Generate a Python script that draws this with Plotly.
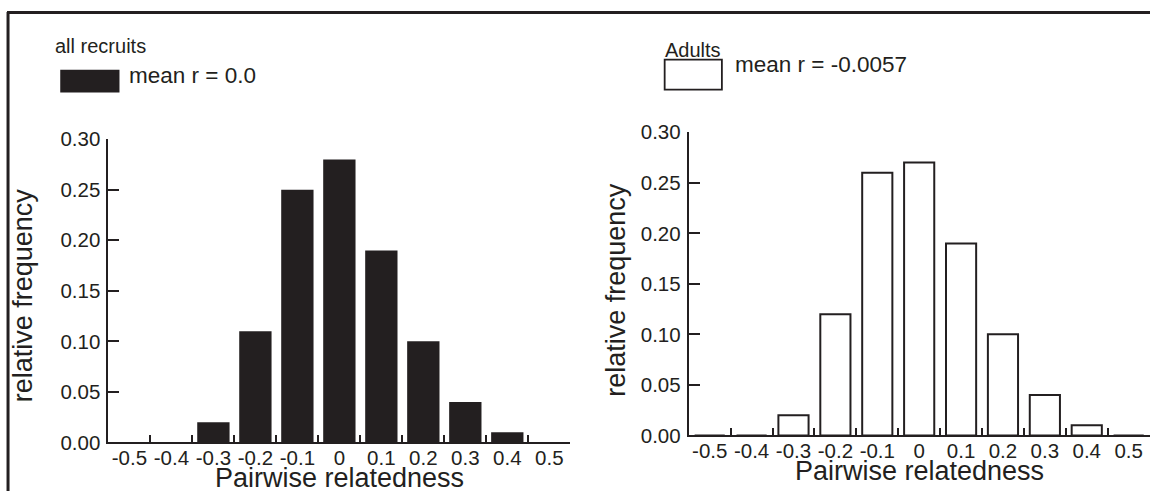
import plotly.graph_objects as go

# ---- data ----
categories = ["-0.5", "-0.4", "-0.3", "-0.2", "-0.1", "0", "0.1", "0.2", "0.3", "0.4", "0.5"]
recruits = [0.0, 0.0, 0.02, 0.11, 0.25, 0.28, 0.19, 0.10, 0.04, 0.01, 0.0]
adults = [0.0, 0.0, 0.02, 0.12, 0.26, 0.27, 0.19, 0.10, 0.04, 0.01, 0.0]
y_ticks = [0.0, 0.05, 0.10, 0.15, 0.20, 0.25, 0.30]
label_recruits = "all recruits"
label_adults = "Adults"
mean_recruits = "mean r = 0.0"
mean_adults = "mean r = -0.0057"
x_title = "Pairwise relatedness"
y_title = "relative frequency"

W, H = 1150, 502
INK = "#231F20"
FONT = "Liberation Sans, Arial, sans-serif"

# the captured picture is slightly squeezed; map target picture pixels to figure pixels
SY, OY = 0.96, 9.0
SX = 0.996


def px(x):
    return min(max((x / SX) / W, 0), 1)


def py(y):
    return min(max(1 - ((y - OY) / SY) / H, 0), 1)


fig = go.Figure()
fig.add_trace(go.Bar(x=categories, y=recruits, width=0.77,
                     marker=dict(color=INK, line=dict(width=0)),
                     xaxis="x", yaxis="y", showlegend=False))
fig.add_trace(go.Bar(x=categories, y=adults, width=0.72,
                     marker=dict(color="white", line=dict(color=INK, width=2)),
                     xaxis="x2", yaxis="y2", showlegend=False))

xcommon = dict(type="category", categoryorder="array", categoryarray=categories,
               range=[-0.5, len(categories) - 0.5], tickson="boundaries",
               ticks="inside", ticklen=7, tickwidth=2, tickcolor=INK, tickangle=0,
               showline=True, linewidth=2, linecolor=INK, showgrid=False,
               zeroline=False, tickfont=dict(size=20.5, color=INK, family=FONT),
               ticklabelstandoff=-4, fixedrange=True)
ycommon = dict(range=[0, 0.30], tickvals=y_ticks, tickformat=".2f",
               ticks="inside", ticklen=11, tickwidth=2, tickcolor=INK,
               showline=True, linewidth=2, linecolor=INK, showgrid=False,
               zeroline=False, tickfont=dict(size=20.5, color=INK, family=FONT),
               ticklabelstandoff=2, fixedrange=True)

fig.update_layout(
    width=W, height=H,
    margin=dict(l=0, r=0, t=0, b=0),
    paper_bgcolor="white", plot_bgcolor="white",
    font=dict(family=FONT, color=INK),
    bargap=0.2,
    xaxis=dict(domain=[px(108), px(568)], anchor="y", **xcommon),
    yaxis=dict(domain=[py(442), py(137)], anchor="x", **ycommon),
    xaxis2=dict(domain=[px(686), px(1145)], anchor="y2", **xcommon),
    yaxis2=dict(domain=[py(435), py(130)], anchor="x2", **ycommon),
)

shapes = [
    # outer frame (top and left edges)
    dict(type="line", xref="paper", yref="paper", x0=px(7), x1=1, y0=0.999, y1=0.999,
         line=dict(color=INK, width=3)),
    dict(type="line", xref="paper", yref="paper", x0=px(8), x1=px(8), y0=0, y1=1,
         line=dict(color=INK, width=3)),
    # legend swatches
    dict(type="rect", xref="paper", yref="paper", x0=px(60), x1=px(119), y0=py(90), y1=py(67),
         fillcolor=INK, line=dict(width=0)),
    dict(type="rect", xref="paper", yref="paper", x0=px(662), x1=px(719), y0=py(87), y1=py(57),
         fillcolor="white", line=dict(color=INK, width=1.8)),
]

annotations = [
    dict(text=label_recruits, x=px(53), y=py(43), xanchor="left", yanchor="middle",
         font=dict(size=20)),
    dict(text=mean_recruits, x=px(126), y=py(73), xanchor="left", yanchor="middle",
         font=dict(size=22.5)),
    dict(text=label_adults, x=px(660), y=py(47), xanchor="left", yanchor="middle",
         font=dict(size=20)),
    dict(text=mean_adults, x=px(730), y=py(62), xanchor="left", yanchor="middle",
         font=dict(size=22.5)),
    dict(text=x_title, x=px(338), y=py(478), xanchor="center", yanchor="middle",
         font=dict(size=27)),
    dict(text=x_title, x=px(916), y=py(471), xanchor="center", yanchor="middle",
         font=dict(size=27)),
    dict(text=y_title, x=px(23), y=py(294), xanchor="center", yanchor="middle",
         textangle=-90, font=dict(size=27)),
    dict(text=y_title, x=px(614), y=py(288), xanchor="center", yanchor="middle",
         textangle=-90, font=dict(size=27)),
]
for a in annotations:
    a.update(xref="paper", yref="paper", showarrow=False)
    a["font"].update(family=FONT, color=INK)

fig.update_layout(shapes=shapes, annotations=annotations)

fig.write_html("out.html", config={"displayModeBar": False},
               post_script="document.body.style.margin='0';document.body.style.overflow='hidden';")
